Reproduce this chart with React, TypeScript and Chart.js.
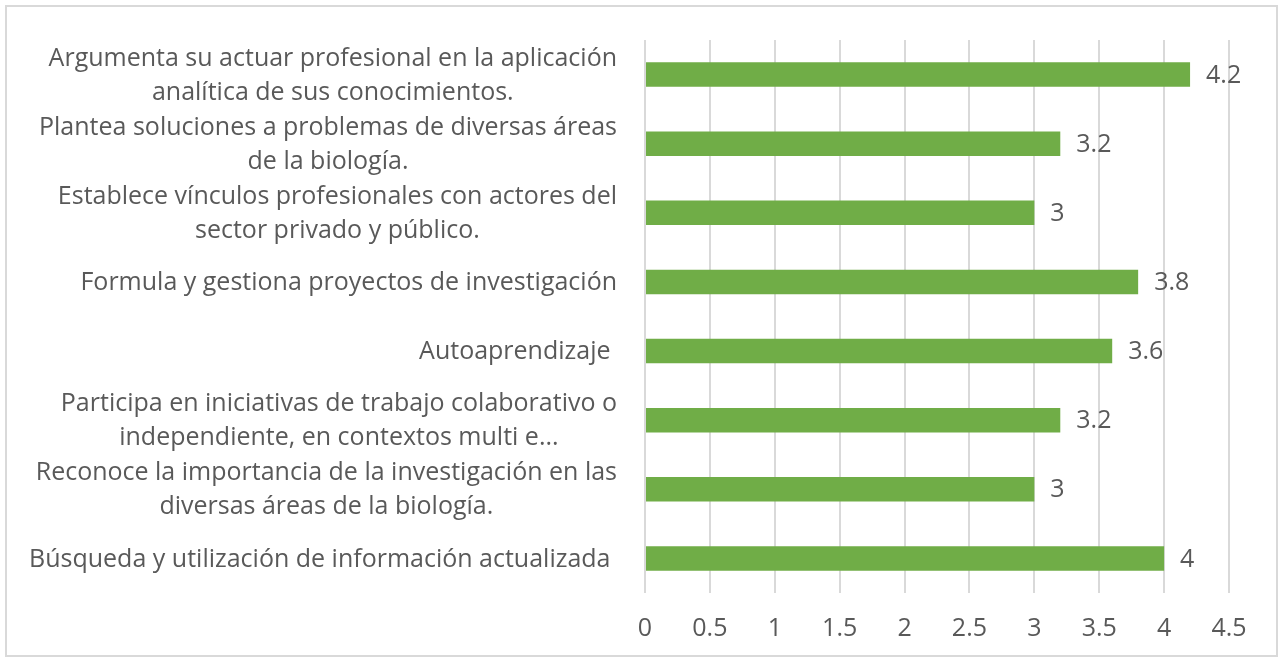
import React, { useEffect, useRef } from "react";
import { Chart, registerables } from "chart.js";

Chart.register(...registerables);

const categoryLines: string[][] = [
  ["Argumenta su actuar profesional en la aplicación", "analítica de sus conocimientos."],
  ["Plantea soluciones a problemas de diversas áreas", "de la biología."],
  ["Establece vínculos profesionales con actores del", "sector privado y público."],
  ["Formula y gestiona proyectos de investigación"],
  ["Autoaprendizaje "],
  ["Participa en iniciativas de trabajo colaborativo o", "independiente, en contextos multi e..."],
  ["Reconoce la importancia de la investigación en las", "diversas áreas de la biología."],
  ["Búsqueda y utilización de información actualizada "],
];
const values: number[] = [4.2, 3.2, 3, 3.8, 3.6, 3.2, 3, 4];
const xMin = 0;
const xMax = 4.5;
const xStep = 0.5;

const FONT = "'Open Sans'";
const FSIZE = 25;
const TEXT = "#595959";
const GRID = "#D9D9D9";
const BAR = "#70AD47";

export default function App() {
  const ref = useRef<HTMLCanvasElement | null>(null);
  useEffect(() => {
    if (!ref.current) return;
    const labelPlugin = {
      id: "customLabels",
      beforeDraw(chart: any) {
        const ctx = chart.ctx;
        ctx.save();
        ctx.strokeStyle = GRID;
        ctx.lineWidth = 2;
        ctx.strokeRect(6, 6, 1271, 650);
        ctx.restore();
      },
      afterDraw(chart: any) {
        const ctx = chart.ctx;
        const ys = chart.scales.y;
        const xs = chart.scales.x;
        ctx.save();
        ctx.font = `${FSIZE}px ${FONT}`;
        ctx.fillStyle = TEXT;
        ctx.textBaseline = "middle";
        const rightEdge = 617;
        const lineGap = 34;
        categoryLines.forEach((lines, i) => {
          const cy = ys.getPixelForValue(i);
          const maxW = Math.max(...lines.map((l) => ctx.measureText(l).width));
          const cx = rightEdge - maxW / 2;
          ctx.textAlign = "center";
          lines.forEach((l, j) => {
            ctx.fillText(l, cx, cy + 1 + (j - (lines.length - 1) / 2) * lineGap);
          });
        });
        ctx.textAlign = "left";
        values.forEach((v, i) => {
          const x = xs.getPixelForValue(v) + 16;
          const y = ys.getPixelForValue(i);
          ctx.fillText(String(v), x, y + 1);
        });
        ctx.restore();
      },
    };
    const chart = new Chart(ref.current, {
      type: "bar",
      data: {
        labels: categoryLines.map((l) => l.join(" ")),
        datasets: [
          {
            data: values,
            backgroundColor: BAR,
            borderWidth: 0,
            barPercentage: 0.355,
            categoryPercentage: 1,
          },
        ],
      },
      options: {
        indexAxis: "y",
        animation: false,
        responsive: false,
        maintainAspectRatio: false,
        layout: { padding: { left: 0, top: 40, right: 52, bottom: 0 } },
        plugins: { legend: { display: false }, tooltip: { enabled: false } },
        scales: {
          x: {
            min: xMin,
            max: xMax,
            afterFit: (s: any) => {
              s.height = 67;
            },
            ticks: {
              stepSize: xStep,
              color: TEXT,
              font: { family: FONT, size: FSIZE },
              padding: 21,
              maxRotation: 0,
              autoSkip: false,
              callback: (v: any) => String(Number(v)),
            },
            grid: { color: GRID, lineWidth: 2, drawTicks: false },
            border: { display: false },
          },
          y: {
            afterFit: (s: any) => {
              s.width = 645;
            },
            ticks: { display: false },
            grid: { display: false },
            border: { display: false },
          },
        },
      },
      plugins: [labelPlugin],
    } as any);
    return () => chart.destroy();
  }, []);
  return (
    <div style={{ position: "fixed", left: 0, top: 0, width: 1281, height: 660, background: "#fff" }}>
      <canvas ref={ref} width={1281} height={660} style={{ display: "block" }} />
    </div>
  );
}
